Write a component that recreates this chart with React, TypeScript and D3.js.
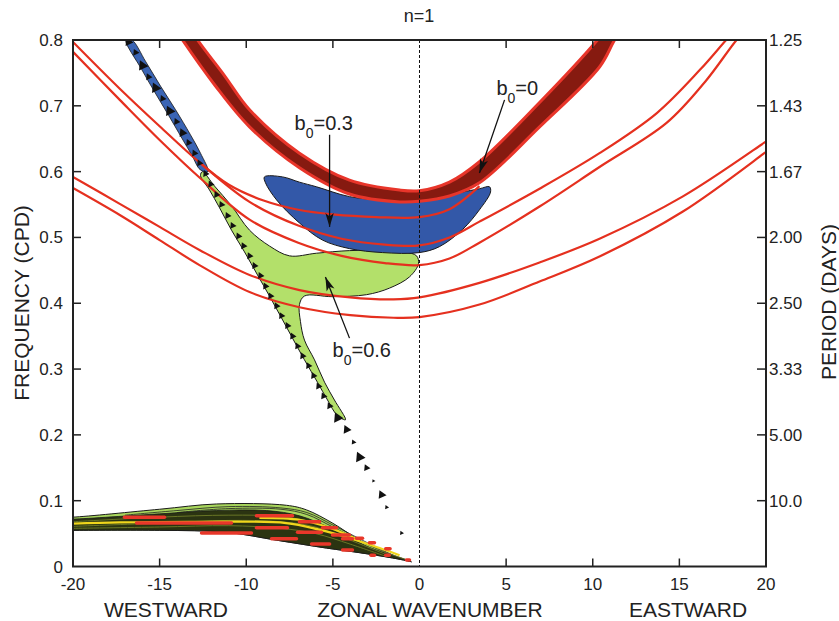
import React from "react";
import * as d3 from "d3";

type P = [number, number];

// ---------- axis data ----------
const waveTicks = [-20, -15, -10, -5, 0, 5, 10, 15, 20];
const freqTicks = [0, 0.1, 0.2, 0.3, 0.4, 0.5, 0.6, 0.7, 0.8];
const freqLabels = ["0", "0.1", "0.2", "0.3", "0.4", "0.5", "0.6", "0.7", "0.8"];
const periodTicks = [0.1, 0.2, 0.3, 0.4, 0.5, 0.6, 0.7, 0.8];
const periodLabels = ["10.0", "5.00", "3.33", "2.50", "2.00", "1.67", "1.43", "1.25"];

// ---------- red dispersion curves (k, cpd) ----------
const curveA: P[] = [[-12.7, 0.614], [-11, 0.58], [-9, 0.556], [-7, 0.542], [-5, 0.535], [-2.5, 0.531], [0, 0.531], [1.73, 0.543], [3.46, 0.578]];
const curveB: P[] = [[-20, 0.797], [-17.3, 0.726], [-15, 0.669], [-12.7, 0.614], [-9.81, 0.554], [-7, 0.518], [-4.5, 0.498], [-2, 0.489], [0, 0.488], [1.73, 0.5], [3.46, 0.524], [6.93, 0.574], [10.39, 0.628], [13.7, 0.689], [16.2, 0.755], [17.7, 0.8], [18.4, 0.82]];
const curveC: P[] = [[-20, 0.782], [-17.3, 0.709], [-15, 0.648], [-12.7, 0.591], [-9.81, 0.527], [-7, 0.492], [-4.5, 0.472], [-2, 0.461], [0, 0.458], [1.73, 0.468], [3.46, 0.492], [6.93, 0.547], [10.39, 0.607], [14.26, 0.674], [16.5, 0.737], [18.3, 0.8], [19, 0.82]];
const curveD: P[] = [[-20, 0.592], [-17.3, 0.551], [-15, 0.516], [-12.7, 0.481], [-9.81, 0.443], [-6.93, 0.42], [-4, 0.409], [-1.5, 0.406], [0, 0.409], [3.46, 0.431], [6.93, 0.462], [10.39, 0.498], [15.18, 0.562], [19.9, 0.644], [20.5, 0.655]];
const curveE: P[] = [[-20, 0.575], [-17.3, 0.534], [-15, 0.496], [-12.7, 0.458], [-9.81, 0.417], [-6.93, 0.394], [-4, 0.382], [-1.5, 0.378], [0, 0.379], [3.46, 0.398], [6.93, 0.433], [10.39, 0.471], [15.18, 0.539], [19.9, 0.628], [20.5, 0.64]];
const redCurves = [curveA, curveB, curveC, curveD, curveE];

// ---------- b0 = 0 band ----------
const bandUpper: P[] = [[-13.4, 0.825], [-12.81, 0.8], [-11.26, 0.746], [-9.81, 0.694], [-6.93, 0.628], [-4.04, 0.587], [-1.15, 0.572], [0, 0.571], [1.73, 0.584], [3.46, 0.615], [6.93, 0.705], [10.27, 0.8], [11, 0.825]];
const bandLower: P[] = [[-14.3, 0.825], [-13.68, 0.8], [-11.83, 0.732], [-9.81, 0.668], [-6.93, 0.606], [-4.04, 0.566], [-1.15, 0.554], [0, 0.555], [1.73, 0.563], [3.46, 0.583], [6.93, 0.668], [10.39, 0.759], [11.26, 0.8], [12, 0.83]];

// ---------- b0 = 0.3 region ----------
const blueRegion: P[] = [[-8.95, 0.592], [-7.91, 0.592], [-6.93, 0.584], [-5.95, 0.577], [-4.04, 0.562], [-2.14, 0.557], [0, 0.555], [1.9, 0.566], [3.46, 0.574], [4.04, 0.577], [4.1, 0.569], [3.46, 0.542], [2.48, 0.512], [1.15, 0.486], [0, 0.477], [-2.14, 0.477], [-4.04, 0.483], [-5.6, 0.496], [-6.93, 0.522], [-8.25, 0.557], [-8.89, 0.583]];

// ---------- b0 = 0.6 region ----------
const greenRegion: P[] = [[-12.53, 0.6], [-11.83, 0.578], [-10.85, 0.548], [-9.81, 0.511], [-8.66, 0.487], [-7.5, 0.472], [-5.95, 0.476], [-4.04, 0.48], [-2.02, 0.48], [-0.87, 0.478], [-0.17, 0.472], [-0.06, 0.46], [-0.58, 0.44], [-1.73, 0.423], [-3.06, 0.413], [-5.02, 0.41], [-6.64, 0.411], [-6.93, 0.398], [-6.87, 0.372], [-6.64, 0.344], [-6.06, 0.314], [-5.48, 0.28], [-4.91, 0.253], [-4.27, 0.223], [-4.73, 0.229], [-5.31, 0.253], [-5.89, 0.28], [-6.64, 0.314], [-7.33, 0.347], [-7.97, 0.378], [-8.66, 0.411], [-9.35, 0.443], [-10.1, 0.478], [-10.85, 0.511], [-11.54, 0.545], [-12.12, 0.572], [-12.64, 0.594]];

const blueStreak: P[] = [[-16.6, 0.8], [-15.8, 0.767], [-14.95, 0.73], [-14.08, 0.694], [-13.22, 0.656], [-12.64, 0.628], [-12.2, 0.6], [-12.66, 0.603], [-13.14, 0.625], [-13.72, 0.651], [-14.47, 0.685], [-15.22, 0.718], [-16.03, 0.755], [-16.95, 0.8]];

// triangles along the streak: k, cpd, size
const streakMarks: [number, number, number][] = [
  [-16.8, 0.797, 5], [-16.39, 0.781, 4], [-15.99, 0.761, 6], [-15.64, 0.744, 4], [-15.24, 0.727, 6], [-14.83, 0.711, 4], [-14.43, 0.692, 6], [-14.03, 0.676, 4], [-13.68, 0.659, 5], [-13.33, 0.644, 4], [-12.99, 0.628, 4], [-12.7, 0.613, 4],
  [-12.35, 0.597, 4], [-12.06, 0.581, 4], [-11.72, 0.565, 4], [-11.43, 0.55, 4], [-11.08, 0.533, 4], [-10.79, 0.518, 4], [-10.45, 0.502, 4], [-10.16, 0.487, 4], [-9.81, 0.472, 4], [-9.52, 0.457, 4], [-9.18, 0.442, 4], [-8.89, 0.426, 4], [-8.6, 0.411, 4], [-8.25, 0.396, 4], [-7.97, 0.381, 4], [-7.62, 0.366, 4], [-7.33, 0.35, 4], [-7.04, 0.335, 4], [-6.75, 0.32, 4], [-6.41, 0.305, 4], [-6.12, 0.29, 4], [-5.83, 0.274, 4], [-5.54, 0.259, 4], [-5.19, 0.244, 4],
  [-4.73, 0.226, 6], [-4.21, 0.208, 5], [-3.81, 0.189, 3], [-3.46, 0.166, 6], [-3.06, 0.15, 4], [-2.66, 0.13, 2], [-2.19, 0.109, 5], [-1.9, 0.09, 2.5], [-1.04, 0.051, 2.5],
];

// ---------- low-frequency blob ----------
const blobUpper: P[] = [[-20.5, 0.075], [-20, 0.075], [-15, 0.087], [-11.72, 0.095], [-7.68, 0.093], [-6.52, 0.086], [-5.02, 0.066], [-3.46, 0.04], [-1.9, 0.021], [-0.75, 0.01], [-0.46, 0.007]];
const blobLower: P[] = [[-20.5, 0.055], [-20, 0.055], [-15, 0.055], [-11.14, 0.052], [-8.25, 0.04], [-5.37, 0.028], [-3.46, 0.021], [-1.56, 0.013], [-0.58, 0.008]];
const blobDarkUpper: P[] = [[-20.5, 0.072], [-20, 0.072], [-15, 0.08], [-11.72, 0.085], [-8.83, 0.085], [-6.93, 0.077], [-5.02, 0.057], [-3.06, 0.031], [-1.15, 0.013], [-0.58, 0.008]];
const blobGreenLines: P[][] = [
  [[-17, 0.078], [-14, 0.085], [-11, 0.091], [-8, 0.089], [-6.5, 0.082], [-5, 0.063], [-3, 0.036], [-1.5, 0.017]],
  [[-14, 0.082], [-11, 0.088], [-8, 0.087], [-6.5, 0.079], [-5, 0.06], [-3, 0.033]],
];
const blobLines: P[][] = [
  [[-20, 0.068], [-15, 0.075], [-11, 0.078], [-8, 0.076], [-6, 0.066], [-4, 0.045], [-2, 0.022], [-0.7, 0.01]],
  [[-20, 0.061], [-15, 0.066], [-11, 0.07], [-8, 0.068], [-6, 0.06], [-4, 0.04], [-2, 0.019]],
  [[-20, 0.058], [-15, 0.06], [-11, 0.062], [-8, 0.058], [-6, 0.05], [-4, 0.034], [-2, 0.016]],
];
const blobYellow: P[][] = [
  [[-20, 0.065], [-17.3, 0.067], [-12.7, 0.068], [-7.7, 0.066], [-5.8, 0.056], [-4, 0.043], [-2.3, 0.028], [-1.15, 0.017]],
  [[-9.24, 0.074], [-6.93, 0.071], [-5.2, 0.059], [-3.46, 0.04]],
];
// red dashes: k1, k2, cpd
const blobDashes: [number, number, number][] = [
  [-17.03, -14.72, 0.075], [-16.33, -10.85, 0.066], [-12.58, -9.7, 0.051], [-9.41, -7.33, 0.077], [-9.41, -7.62, 0.059], [-8.54, -7.1, 0.042],
  [-6.93, -5.77, 0.068], [-7.04, -5.66, 0.052], [-6.23, -5.19, 0.034], [-5.6, -4.79, 0.059], [-5.02, -4.04, 0.048], [-4.44, -3.87, 0.042],
  [-4.44, -3.87, 0.025], [-3.64, -3.29, 0.043], [-2.89, -2.6, 0.036], [-2.8, -2.6, 0.017], [-1.95, -1.7, 0.027], [-1.95, -1.75, 0.017], [-0.75, -0.6, 0.01],
];

// ---------- annotations (k, cpd) ----------
const annotations = [
  { text: "0.3", at: [-7.21, 0.663] as P, from: [-5.19, 0.656] as P, to: [-5.19, 0.516] as P },
  { text: "0", at: [4.44, 0.717] as P, from: [4.91, 0.709] as P, to: [3.46, 0.598] as P },
  { text: "0.6", at: [-5.02, 0.318] as P, from: [-4.04, 0.347] as P, to: [-5.43, 0.44] as P },
];

const FONT = "'Liberation Sans', Arial, Helvetica, sans-serif";

export default function App() {
  const W = 839, H = 621;
  const x = d3.scaleLinear().domain([-20, 20]).range([73, 766]);
  const y = d3.scaleLinear().domain([0, 0.8]).range([566.5, 40]);
  const line = d3.line<P>().x(d => x(d[0])).y(d => y(d[1])).curve(d3.curveCatmullRom.alpha(0.5));
  const closed = d3.line<P>().x(d => x(d[0])).y(d => y(d[1])).curve(d3.curveCatmullRomClosed.alpha(0.5));
  const between = (u: P[], l: P[]) => {
    const a = line(u) as string;
    const b = line(l.slice().reverse()) as string;
    return a + "L" + b.slice(1) + "Z";
  };
  const tri = d3.symbol().type(d3.symbolTriangle);
  const [x0, x1] = x.range();
  const [y0, y1] = y.range();

  const arrowHead = (from: P, to: P) => {
    const fx = x(from[0]), fy = y(from[1]), tx = x(to[0]), ty = y(to[1]);
    const ang = Math.atan2(ty - fy, tx - fx);
    const L = 14, w = 4.2;
    const bx = tx - L * Math.cos(ang), by = ty - L * Math.sin(ang);
    const px = -Math.sin(ang) * w, py = Math.cos(ang) * w;
    return `M${tx},${ty}L${bx + px},${by + py}L${bx + L * 0.25 * Math.cos(ang)},${by + L * 0.25 * Math.sin(ang)}L${bx - px},${by - py}Z`;
  };

  return (
    <svg width={W} height={H} style={{ position: "absolute", left: 0, top: 0, background: "#fff" }} fontFamily={FONT}>
      <defs>
        <clipPath id="plot">
          <rect x={x0} y={y1} width={x1 - x0} height={y0 - y1} />
        </clipPath>
      </defs>
      <text x={419} y={22} fontSize={18} textAnchor="middle" fill="#222">n=1</text>

      <g clipPath="url(#plot)">
        {/* low-frequency blob */}
        <path d={between(blobUpper, blobLower)} fill="#a8d65c" stroke="#1a1a1a" strokeWidth={1} />
        {blobGreenLines.map((c, i) => (
          <path key={"bg" + i} d={line(c) as string} fill="none" stroke="#222" strokeWidth={0.8} />
        ))}
        <path d={between(blobDarkUpper, blobLower)} fill="#2b3411" stroke="#1a1a1a" strokeWidth={0.8} />
        {blobLines.map((c, i) => (
          <path key={"bl" + i} d={line(c) as string} fill="none" stroke="#6f7d28" strokeWidth={0.9} />
        ))}
        {blobYellow.map((c, i) => (
          <path key={"by" + i} d={line(c) as string} fill="none" stroke="#f0d61c" strokeWidth={2.2} />
        ))}
        {blobDashes.map((d, i) => (
          <line key={"bd" + i} x1={x(d[0])} x2={Math.max(x(d[1]), x(d[0]) + 3)} y1={y(d[2])} y2={y(d[2])} stroke="#e8372a" strokeWidth={3.5} strokeLinecap="round" />
        ))}

        {/* b0 = 0.6 region */}
        <path d={closed(greenRegion) as string} fill="#b3e06a" stroke="#1a1a1a" strokeWidth={1} />
        {/* b0 = 0.3 region */}
        <path d={closed(blueRegion) as string} fill="#3358a8" stroke="#1a1a1a" strokeWidth={1} />
        {/* streak */}
        <path d={closed(blueStreak) as string} fill="#3a64b4" stroke="#1a1a1a" strokeWidth={0.8} />

        {/* b0 = 0 band */}
        <path d={between(bandUpper, bandLower)} fill="#861a10" stroke="#e8352a" strokeWidth={3} />

        {/* red curves */}
        {redCurves.map((c, i) => (
          <path key={"rc" + i} d={line(c) as string} fill="none" stroke="#e5301f" strokeWidth={2.2} />
        ))}

        {streakMarks.map((m, i) => (
          <path key={"tm" + i} d={tri.size(m[2] * m[2] * 1.3)() as string}
            transform={`translate(${x(m[0])},${y(m[1])}) rotate(-25)`} fill="#111" />
        ))}

        <line x1={x(0)} x2={x(0)} y1={y1} y2={y0} stroke="#111" strokeWidth={1} strokeDasharray="3,2" />
      </g>

      {/* frame */}
      <rect x={x0} y={y1} width={x1 - x0} height={y0 - y1} fill="none" stroke="#222" strokeWidth={2} />

      {/* x ticks */}
      {waveTicks.map((t, i) => (
        <g key={"xt" + i}>
          {i > 0 && i < waveTicks.length - 1 && t !== 0 && (
            <>
              <line x1={x(t)} x2={x(t)} y1={y0} y2={y0 - 8} stroke="#222" strokeWidth={1.5} />
              <line x1={x(t)} x2={x(t)} y1={y1} y2={y1 + 8} stroke="#222" strokeWidth={1.5} />
            </>
          )}
          <text x={x(t)} y={y0 + 23} fontSize={17} textAnchor="middle" fill="#222">{String(t)}</text>
        </g>
      ))}
      {/* left ticks */}
      {freqTicks.map((t, i) => (
        <g key={"yt" + i}>
          {i > 0 && i < freqTicks.length - 1 && (
            <line x1={x0} x2={x0 + 8} y1={y(t)} y2={y(t)} stroke="#222" strokeWidth={1.5} />
          )}
          <text x={x0 - 10} y={y(t) + 6} fontSize={17} textAnchor="end" fill="#222">{freqLabels[i]}</text>
        </g>
      ))}
      {/* right ticks */}
      {periodTicks.map((t, i) => (
        <g key={"pt" + i}>
          <line x1={x1 - 9} x2={x1} y1={y(t)} y2={y(t)} stroke="#222" strokeWidth={1.5} />
          <text x={x1 + 3} y={y(t) + 6} fontSize={17} textAnchor="start" fill="#222">{periodLabels[i]}</text>
        </g>
      ))}

      {/* axis titles */}
      <text x={166} y={617} fontSize={21} textAnchor="middle" fill="#222">WESTWARD</text>
      <text x={430} y={617} fontSize={21} textAnchor="middle" fill="#222">ZONAL WAVENUMBER</text>
      <text x={688} y={617} fontSize={21} textAnchor="middle" fill="#222">EASTWARD</text>
      <text transform="translate(29,303) rotate(-90)" fontSize={21} textAnchor="middle" fill="#222">FREQUENCY (CPD)</text>
      <text transform="translate(836,302) rotate(-90)" fontSize={21} textAnchor="middle" fill="#222">PERIOD (DAYS)</text>

      {/* annotations */}
      {annotations.map((a, i) => (
        <g key={"an" + i}>
          <line x1={x(a.from[0])} y1={y(a.from[1])} x2={x(a.to[0])} y2={y(a.to[1])} stroke="#111" strokeWidth={1.3} />
          <path d={arrowHead(a.from, a.to)} fill="#111" />
          <text x={x(a.at[0])} y={y(a.at[1])} fontSize={20} fill="#222">
            b<tspan dy={8} fontSize={14}>0</tspan><tspan dy={-8}>={a.text}</tspan>
          </text>
        </g>
      ))}
    </svg>
  );
}
